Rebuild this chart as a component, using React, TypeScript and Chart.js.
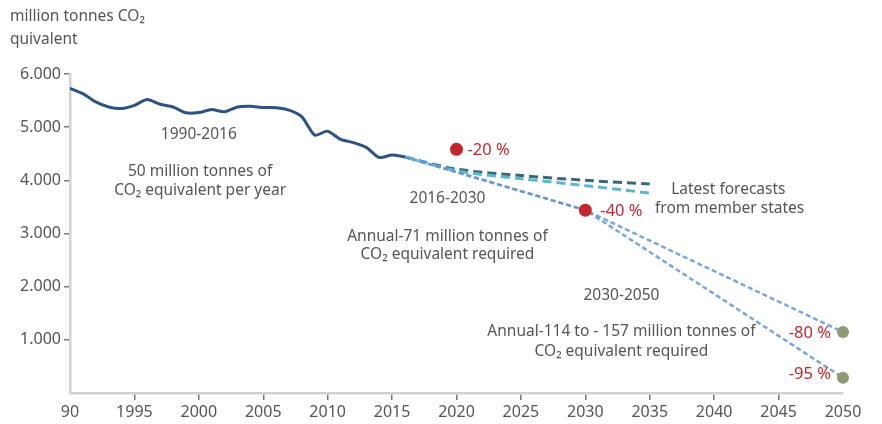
import React, { useEffect, useRef } from "react";
import { Chart, registerables } from "chart.js";

Chart.register(...registerables);

// ---- Data ----
const histYears = [1990, 1991, 1992, 1993, 1994, 1995, 1996, 1997, 1998, 1999, 2000, 2001, 2002, 2003, 2004, 2005, 2006, 2007, 2008, 2009, 2010, 2011, 2012, 2013, 2014, 2015, 2016];
const histValues = [5730, 5630, 5475, 5380, 5350, 5410, 5520, 5430, 5380, 5270, 5275, 5330, 5290, 5380, 5395, 5370, 5365, 5320, 5195, 4850, 4925, 4770, 4710, 4620, 4430, 4475, 4440];

const forecastYears = [2016, 2020, 2025, 2030, 2035];
const forecastDark = [4440, 4210, 4090, 4000, 3930];
const forecastLight = [4440, 4180, 4030, 3900, 3760];

const targetYears = [2016, 2030, 2050];
const target80 = [4440, 3440, 1146];
const target95 = [4440, 3440, 287];

const redYears = [2020, 2030];
const redValues = [4584, 3438];
const redLabels = ["-20 %", "-40 %"];
const greenYears = [2050, 2050];
const greenValues = [1146, 287];
const greenLabels = ["-80 %", "-95 %"];

const xTicks = [1990, 1995, 2000, 2005, 2010, 2015, 2020, 2025, 2030, 2035, 2040, 2045, 2050];
const yTicks = [0, 1000, 2000, 3000, 4000, 5000, 6000];

const yTitleLines = ["million tonnes CO₂", "quivalent"];

// annotation texts (anchored in data coordinates)
const notes = [
  { text: "1990-2016", x: 2000.0, y: 4852 },
  { text: "50 million tonnes of", x: 2000.1, y: 4157 },
  { text: "CO₂ equivalent per year", x: 2000.1, y: 3800 },
  { text: "2016-2030", x: 2019.3, y: 3649 },
  { text: "Annual-71 million tonnes of", x: 2019.3, y: 2934 },
  { text: "CO₂ equivalent required", x: 2019.3, y: 2596 },
  { text: "Latest forecasts", x: 2041.1, y: 3818 },
  { text: "from member states", x: 2041.2, y: 3461 },
  { text: "2030-2050", x: 2032.8, y: 1824 },
  { text: "Annual-114 to - 157 million tonnes of", x: 2032.8, y: 1147 },
  { text: "CO₂ equivalent required", x: 2032.8, y: 771 },
];

const FONT = '"Noto Sans", sans-serif';
const GREY = "#555555";
const RED = "#c1272d";
const GREEN = "#8d9a73";

const pts = (xs: number[], ys: number[]) => xs.map((x, i) => ({ x, y: ys[i] }));

const annotate = {
  id: "annotate",
  afterDatasetsDraw(chart: any) {
    const ctx = chart.ctx;
    const xs = chart.scales.x;
    const ys = chart.scales.y;
    ctx.save();
    ctx.font = `15.5px ${FONT}`;
    ctx.textBaseline = "middle";
    ctx.fillStyle = GREY;
    ctx.textAlign = "center";
    notes.forEach((n) => {
      ctx.fillText(n.text, xs.getPixelForValue(n.x), ys.getPixelForValue(n.y));
    });
    // percent labels
    ctx.font = `16.5px ${FONT}`;
    ctx.fillStyle = RED;
    ctx.textAlign = "left";
    redYears.forEach((yr, i) => {
      const px = xs.getPixelForValue(yr);
      const py = ys.getPixelForValue(redValues[i]);
      ctx.fillText(redLabels[i], px + (i === 0 ? 11 : 15), py + 1);
    });
    ctx.textAlign = "right";
    greenYears.forEach((yr, i) => {
      const px = xs.getPixelForValue(yr);
      const py = ys.getPixelForValue(greenValues[i]);
      ctx.fillText(greenLabels[i], px - 12, py + (i === 0 ? 1 : -3));
    });
    // axis title
    ctx.fillStyle = GREY;
    ctx.textAlign = "left";
    ctx.font = `15.5px ${FONT}`;
    ctx.fillText(yTitleLines[0], 10, 17);
    ctx.fillText(yTitleLines[1], 10, 40);
    ctx.restore();
  },
};

export default function App() {
  const ref = useRef<HTMLCanvasElement>(null);
  useEffect(() => {
    if (!ref.current) return;
    const dashLine = (label: string, data: any, color: string, dash: number[], width: number, order: number, tension: number) => ({
      label,
      data,
      borderColor: color,
      borderWidth: width,
      borderDash: dash,
      pointRadius: 0,
      fill: false,
      tension,
      order,
    });
    const chart = new Chart(ref.current, {
      type: "line",
      data: {
        datasets: [
          {
            label: "red",
            data: pts(redYears, redValues),
            showLine: false,
            pointRadius: 6.5,
            pointBackgroundColor: RED,
            pointBorderWidth: 0,
            order: 0,
            clip: false,
          },
          {
            label: "green",
            data: pts(greenYears, greenValues),
            showLine: false,
            pointRadius: 6,
            pointBackgroundColor: GREEN,
            pointBorderWidth: 0,
            order: 0,
            clip: false,
          },
          dashLine("target80", pts(targetYears, target80), "rgba(100,150,210,0.85)", [5, 3], 2.5, 1, 0),
          dashLine("target95", pts(targetYears, target95), "rgba(100,150,210,0.85)", [5, 3], 2.5, 1, 0),
          dashLine("forecastLight", pts(forecastYears, forecastLight), "#5cb6d0", [9, 5], 3, 2, 0.3),
          dashLine("forecastDark", pts(forecastYears, forecastDark), "#3b6878", [9, 5], 3, 2, 0.3),
          {
            label: "hist",
            data: pts(histYears, histValues),
            borderColor: "#2d5283",
            borderWidth: 3,
            pointRadius: 0,
            tension: 0.25,
            fill: false,
            order: 3,
          },
        ],
      },
      options: {
        animation: false,
        responsive: false,
        maintainAspectRatio: false,
        layout: { padding: { top: 74, right: 39, left: 0, bottom: 0 } },
        plugins: { legend: { display: false }, tooltip: { enabled: false } },
        scales: {
          x: {
            type: "linear",
            min: 1990,
            max: 2050,
            afterBuildTicks: (s: any) => {
              s.ticks = xTicks.map((v) => ({ value: v }));
            },
            afterFit: (s: any) => {
              s.height = 31;
            },
            ticks: {
              color: GREY,
              font: { family: FONT, size: 16 },
              padding: 3,
              maxRotation: 0,
              autoSkip: false,
              callback: (v: any) => (v === 1990 ? "90" : String(v)),
            },
            grid: {
              drawOnChartArea: false,
              drawTicks: true,
              tickLength: 7,
              lineWidth: 1.5,
              color: (c: any) => (c.tick && (c.tick.value === 1990 || c.tick.value === 2050) ? "rgba(0,0,0,0)" : "#777777"),
            },
            border: { color: "#d2d2d2", width: 2.5 },
          },
          y: {
            type: "linear",
            min: 0,
            max: 6000,
            afterBuildTicks: (s: any) => {
              s.ticks = yTicks.map((v) => ({ value: v }));
            },
            afterFit: (s: any) => {
              s.width = 70;
            },
            ticks: {
              color: GREY,
              font: { family: FONT, size: 16 },
              padding: 3,
              callback: (v: any) => (v === 0 ? "" : v.toLocaleString("de-DE")),
            },
            grid: {
              drawOnChartArea: false,
              drawTicks: true,
              tickLength: 6,
              lineWidth: 1.5,
              color: (c: any) => (c.tick && c.tick.value === 0 ? "rgba(0,0,0,0)" : "#777777"),
            },
            border: { color: "#d2d2d2", width: 2.5 },
          },
        },
      },
      plugins: [annotate],
    });
    return () => chart.destroy();
  }, []);
  return (
    <div style={{ position: "fixed", left: 0, top: 0, width: 882, height: 424, background: "#fff" }}>
      <canvas ref={ref} width={882} height={424} style={{ width: 882, height: 424 }} />
    </div>
  );
}
